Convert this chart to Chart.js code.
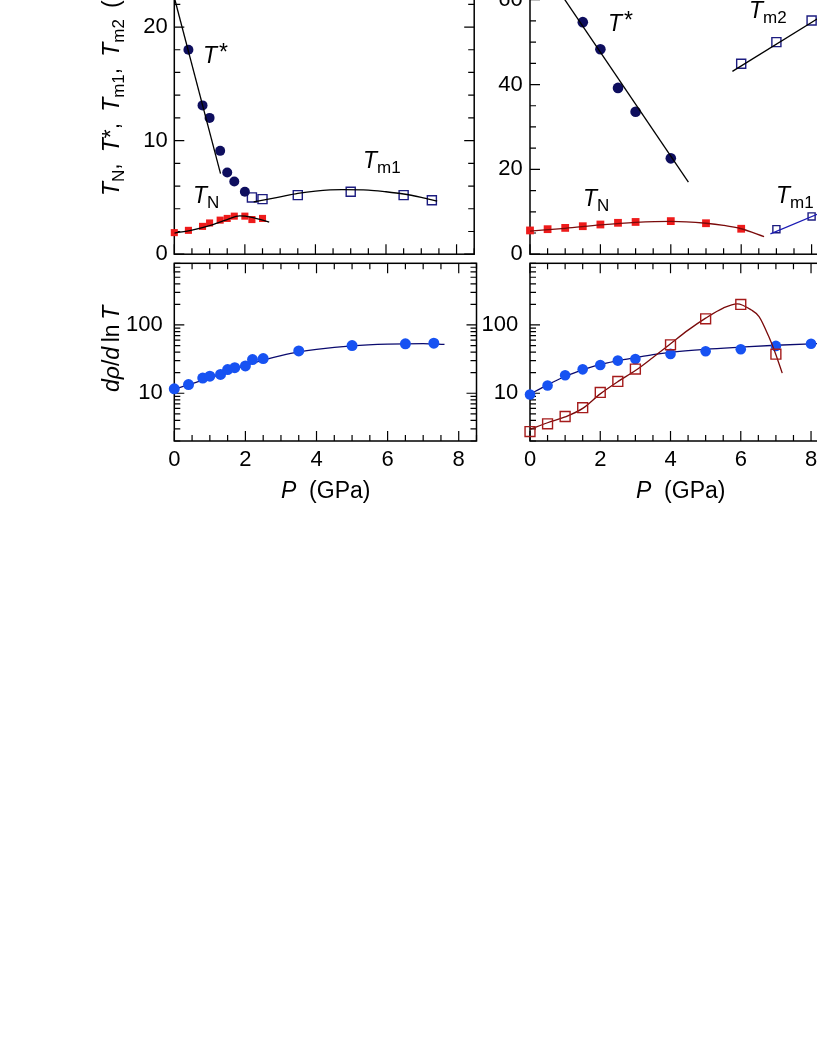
<!DOCTYPE html>
<html>
<head>
<meta charset="utf-8">
<script src="https://cdn.jsdelivr.net/npm/chart.js@4.4.1/dist/chart.umd.min.js"></script>
<style>
  body { margin: 0; width: 817px; height: 1058px; overflow: hidden; position: relative; background: #fff;
         font-family: "Liberation Sans", Arial, Helvetica, sans-serif; color: #000; }
  .box { position: absolute; }
  .lbl { position: absolute; font-size: 23px; line-height: 1; white-space: nowrap; }
  .rot { transform-origin: 0 0; transform: rotate(-90deg); }
  .sb { font-size: 17px; position: relative; top: 5px; }
  .st { position: relative; top: -3px; margin-left: 2px; }
</style>
</head>
<body>
<div class="box" style="left:100px;top:-40px;width:382px;height:302px"><canvas id="cTL"></canvas></div>
<div class="box" style="left:455px;top:-40px;width:382px;height:302px"><canvas id="cTR"></canvas></div>
<div class="box" style="left:100px;top:253px;width:382px;height:220px"><canvas id="cBL"></canvas></div>
<div class="box" style="left:455px;top:253px;width:382px;height:220px"><canvas id="cBR"></canvas></div>

<!-- axis titles -->
<div class="lbl rot" style="left:100px;top:196px"><i>T</i><span class="sb">N</span>,&thinsp; <i>T</i>*,&thinsp; <i>T</i><span class="sb">m1</span>,&thinsp; <i>T</i><span class="sb">m2</span>&thinsp; (K)</div>
<div class="lbl rot" style="left:100px;top:392px"><i>d&rho;</i>/<i>d</i>&thinsp;ln&thinsp;<i>T</i></div>
<div class="lbl" style="left:281px;top:479px"><i>P</i>&nbsp; (GPa)</div>
<div class="lbl" style="left:636px;top:479px"><i>P</i>&nbsp; (GPa)</div>

<!-- curve labels -->
<div class="lbl" style="left:203px;top:44px"><i>T</i><span class="st">*</span></div>
<div class="lbl" style="left:363px;top:149px"><i>T</i><span class="sb">m1</span></div>
<div class="lbl" style="left:193px;top:184px"><i>T</i><span class="sb">N</span></div>
<div class="lbl" style="left:608px;top:12px"><i>T</i><span class="st">*</span></div>
<div class="lbl" style="left:749px;top:-1px"><i>T</i><span class="sb">m2</span></div>
<div class="lbl" style="left:583px;top:187px"><i>T</i><span class="sb">N</span></div>
<div class="lbl" style="left:776px;top:184px"><i>T</i><span class="sb">m1</span></div>

<script>
// ---- data (P in GPa) ----
// left column, top panel
const pTstarA = [0.4, 0.8, 1.0, 1.3, 1.5, 1.7, 2.0];
const tStarA = [18.0, 13.1, 12.0, 9.1, 7.2, 6.4, 5.5];
const pTstarFitA = [0, 1.31];
const tStarFitA = [22.6, 7.1];
const pTm1A = [2.2, 2.5, 3.5, 5.0, 6.5, 7.3];
const tm1A = [5.0, 4.85, 5.2, 5.5, 5.2, 4.75];
const pTm1FitA = [2.25, 3.0, 3.5, 4.0, 4.75, 5.5, 6.0, 6.5, 7.0, 7.45];
const tm1FitA = [4.6, 5.05, 5.35, 5.55, 5.68, 5.65, 5.5, 5.3, 5.0, 4.68];
const pTnA = [0, 0.4, 0.8, 1.0, 1.3, 1.5, 1.7, 2.0, 2.2, 2.5];
const tnA = [1.9, 2.1, 2.45, 2.75, 3.0, 3.15, 3.35, 3.35, 3.05, 3.15];
const pTnFitA = [0, 0.5, 1.0, 1.5, 1.85, 2.2, 2.69];
const tnFitA = [1.85, 2.12, 2.52, 3.05, 3.37, 3.25, 2.82];

// right column, top panel
const pTstarB = [1.5, 2.0, 2.5, 3.0, 4.0];
const tStarB = [54.7, 48.3, 39.2, 33.6, 22.6];
const pTstarFitB = [0.8, 4.5];
const tStarFitB = [62.3, 17.0];
const pTm2B = [6.0, 7.0, 8.0];
const tm2B = [44.9, 50.0, 55.1];
const pTm2FitB = [5.75, 8.5];
const tm2FitB = [43.1, 57.2];
const pTnB = [0, 0.5, 1.0, 1.5, 2.0, 2.5, 3.0, 4.0, 5.0, 6.0];
const tnB = [5.6, 5.9, 6.2, 6.6, 7.0, 7.4, 7.6, 7.8, 7.3, 6.0];
const pTnFitB = [0, 1, 2, 3, 4, 5, 5.5, 6, 6.65];
const tnFitB = [5.45, 6.1, 6.9, 7.5, 7.75, 7.3, 6.8, 6.0, 4.15];
const pTm1B = [7.0, 8.0];
const tm1B = [5.9, 8.9];
const pTm1FitB = [6.83, 8.5];
const tm1FitB = [4.8, 10.6];

// left column, bottom panel (d rho / d lnT)
const pRhoA = [0, 0.4, 0.8, 1.0, 1.3, 1.5, 1.7, 2.0, 2.2, 2.5, 3.5, 5.0, 6.5, 7.3];
const rhoA = [11.6, 13.4, 16.7, 17.8, 18.9, 22.2, 23.7, 25.1, 31.1, 32.2, 41.7, 50, 53, 54.2];
const pRhoFitA = [0, 0.5, 1, 1.5, 2, 2.5, 3, 3.5, 4, 5, 6, 7, 7.6];
const rhoFitA = [11.5, 13.8, 16.8, 20.5, 25.5, 30.5, 35.5, 40.3, 44, 49.5, 52.5, 53.5, 52];

// right column, bottom panel
const pRhoB = [0, 0.5, 1.0, 1.5, 2.0, 2.5, 3.0, 4.0, 5.0, 6.0, 7.0, 8.0];
const rhoB = [9.6, 13.0, 18.4, 22.4, 25.9, 30.1, 31.8, 37.7, 41.3, 44.2, 49.4, 53];
const pRhoFitB = [0, 0.5, 1, 1.5, 2, 2.5, 3, 3.5, 4, 5, 6, 7, 8, 8.5];
const rhoFitB = [9.7, 13.3, 17.6, 22.0, 26.5, 30.0, 33.3, 36.8, 39.8, 44, 47.3, 50.5, 53, 54];
const pRhoRedB = [0, 0.5, 1.0, 1.5, 2.0, 2.5, 3.0, 4.0, 5.0, 6.0, 7.0];
const rhoRedB = [2.75, 3.57, 4.57, 6.15, 10.3, 14.9, 22.6, 51.2, 123, 200, 37.3];
const pRhoRedFitB = [0, 0.5, 1, 1.5, 2, 2.5, 3, 3.5, 4, 4.5, 5, 5.5, 5.9, 6.29, 6.52, 6.8, 6.99, 7.18];
const rhoRedFitB = [2.95, 3.7, 4.5, 6.0, 9.8, 14.8, 21.5, 33.5, 53, 84, 126, 177, 204, 167, 133, 67, 38, 19.7];

// tick labels
const pLabels = [0, 2, 4, 6, 8];
const tLabelsA = [0, 10, 20];
const tLabelsB = [0, 20, 40, 60];
const rhoLabels = [10, 100];

// ---- styling ----
const NAVY = '#0e0e5e', NAVY_OPEN = '#1c1c80', NAVY_LINE = '#0a0a6e';
const RED = '#ee1b1b', DARKRED = '#7a0a0a', RED_OPEN = '#a51b1b';
const BLUE = '#1752f2', BLUE_LINE = '#1a1ab4';
const tickFont = { family: '"Liberation Sans", Arial, sans-serif', size: 22 };

const pts = (xs, ys) => xs.map((x, i) => ({ x, y: ys[i] }));

function dots(xs, ys, color, r) {
  return { data: pts(xs, ys), showLine: false, clip: false, pointStyle: 'circle',
           pointRadius: r, pointBackgroundColor: color, pointBorderWidth: 0 };
}
function squares(xs, ys, color, r, open) {
  return { data: pts(xs, ys), showLine: false, clip: false, pointStyle: 'rect', pointRadius: r,
           pointBackgroundColor: open ? 'rgba(0,0,0,0)' : color,
           pointBorderColor: color, pointBorderWidth: open ? 1.4 : 0 };
}
function curve(xs, ys, color, smooth) {
  return { data: pts(xs, ys), showLine: true, pointRadius: 0, borderColor: color, borderWidth: 1.3,
           tension: 0, cubicInterpolationMode: smooth ? 'monotone' : 'default' };
}

// inward tick marks on all four sides plus the frame
const frameTicks = {
  id: 'frameTicks',
  beforeDatasetsDraw(chart, args, o) {
    const { ctx, chartArea: a } = chart;
    const xs = chart.scales.x, ys = chart.scales.y;
    ctx.save();
    ctx.strokeStyle = '#000';
    ctx.lineWidth = 1.2;
    ctx.beginPath();
    o.xMarks.forEach(([v, major]) => {
      const px = xs.getPixelForValue(v), len = major ? 10 : 6;
      ctx.moveTo(px, a.bottom); ctx.lineTo(px, a.bottom - len);
      ctx.moveTo(px, a.top); ctx.lineTo(px, a.top + len);
    });
    o.yMarks.forEach(([v, major]) => {
      const py = ys.getPixelForValue(v), len = major ? 10 : 6;
      ctx.moveTo(a.left, py); ctx.lineTo(a.left + len, py);
      ctx.moveTo(a.right, py); ctx.lineTo(a.right - len, py);
    });
    ctx.stroke();
    ctx.lineWidth = 1.5;
    ctx.strokeRect(a.left, a.top, a.right - a.left, a.bottom - a.top);
    ctx.restore();
  }
};

const xMarks = [];
for (let v = 0; v <= 8.5; v += 0.5) xMarks.push([v, v % 2 === 0]);

function linMarks(max, step, major) {
  const m = [];
  for (let v = 0; v <= max; v += step) m.push([v, v % major === 0]);
  return m;
}
const logMarks = [];
[1, 10, 100].forEach(d => { for (let k = 1; k <= 9; k++) {
  const v = k * d; if (v >= 2 && v <= 800) logMarks.push([v, k === 1]);
}});

// keep the plot box exactly where it is asked to be
function noPad(s) { s.paddingTop = s.paddingBottom = s.paddingLeft = s.paddingRight = 0; }

function panel(id, p) {
  new Chart(document.getElementById(id), {
    type: 'scatter',
    data: { datasets: p.datasets },
    options: {
      responsive: true, maintainAspectRatio: false, animation: false, events: [],
      layout: { padding: p.padding },
      plugins: { legend: { display: false }, tooltip: { enabled: false },
                 frameTicks: { xMarks: xMarks, yMarks: p.yMarks } },
      scales: {
        x: {
          type: 'linear', min: 0, max: 8.5,
          grid: { display: false, drawTicks: false }, border: { display: false },
          ticks: { display: p.xLabels, padding: 6, font: tickFont, color: '#000', maxRotation: 0, autoSkip: false },
          afterBuildTicks: s => { s.ticks = pLabels.map(v => ({ value: v })); },
          afterFit: s => { s.height = p.xH; noPad(s); }
        },
        y: {
          type: p.yType, min: p.yMin, max: p.yMax,
          grid: { display: false, drawTicks: false }, border: { display: false },
          ticks: { padding: p.yPad, font: tickFont, color: '#000', autoSkip: false,
                   callback: v => String(v) },
          afterBuildTicks: s => { s.ticks = p.yLabels.map(v => ({ value: v })); },
          afterFit: s => { s.width = p.yW; noPad(s); }
        }
      }
    },
    plugins: [frameTicks]
  });
}

panel('cTL', {
  yType: 'linear', yMin: 0, yMax: 25, yLabels: tLabelsA, yMarks: linMarks(25, 2, 10),
  yW: 74.3, yPad: 6.5, xH: 4, xLabels: false, padding: { top: 10.25, right: 4.7, bottom: 0, left: 0 },
  datasets: [
    curve(pTstarFitA, tStarFitA, '#000', false),
    curve(pTm1FitA, tm1FitA, '#000', true),
    curve(pTnFitA, tnFitA, '#000', true),
    dots(pTstarA, tStarA, NAVY, 5),
    squares(pTm1A, tm1A, NAVY_OPEN, 6.4, true),
    squares(pTnA, tnA, RED, 5, false)
  ]
});

panel('cTR', {
  yType: 'linear', yMin: 0, yMax: 67, yLabels: tLabelsB, yMarks: linMarks(67, 5, 20),
  yW: 75, yPad: 7.3, xH: 4, xLabels: false, padding: { top: 10, right: 5, bottom: 0, left: 0 },
  datasets: [
    curve(pTstarFitB, tStarFitB, '#000', false),
    curve(pTm2FitB, tm2FitB, '#000', false),
    curve(pTnFitB, tnFitB, DARKRED, true),
    curve(pTm1FitB, tm1FitB, BLUE_LINE, false),
    dots(pTstarB, tStarB, NAVY, 5.3),
    squares(pTm2B, tm2B, NAVY_OPEN, 6.4, true),
    squares(pTnB, tnB, RED, 5.5, false),
    squares(pTm1B, tm1B, NAVY_OPEN, 5, true)
  ]
});

panel('cBL', {
  yType: 'logarithmic', yMin: 2, yMax: 800, yLabels: rhoLabels, yMarks: logMarks,
  yW: 74.3, yPad: 11.5, xH: 32, xLabels: true, padding: { top: 10.3, right: 4.7, bottom: 0, left: 0 },
  datasets: [
    dots(pRhoA, rhoA, BLUE, 5.5),
    curve(pRhoFitA, rhoFitA, NAVY_LINE, true)
  ]
});

panel('cBR', {
  yType: 'logarithmic', yMin: 2, yMax: 800, yLabels: rhoLabels, yMarks: logMarks,
  yW: 75, yPad: 11.7, xH: 32, xLabels: true, padding: { top: 10.3, right: 5, bottom: 0, left: 0 },
  datasets: [
    squares(pRhoRedB, rhoRedB, RED_OPEN, 7, true),
    curve(pRhoRedFitB, rhoRedFitB, DARKRED, true),
    dots(pRhoB, rhoB, BLUE, 5.3),
    curve(pRhoFitB, rhoFitB, NAVY_LINE, true)
  ]
});
</script>
</body>
</html>
